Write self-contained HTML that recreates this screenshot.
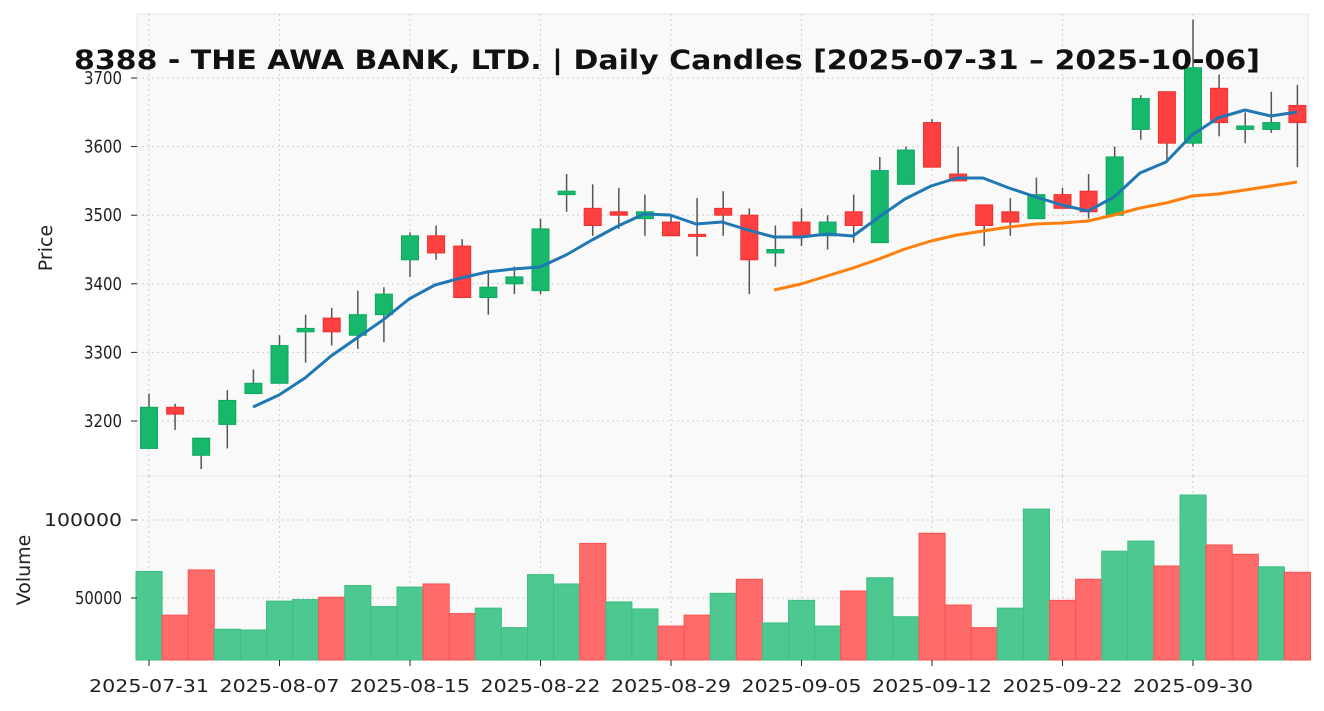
<!DOCTYPE html>
<html><head><meta charset="utf-8"><style>
html,body{margin:0;padding:0;background:#fff;width:1324px;height:711px;overflow:hidden}
svg{display:block;font-family:"DejaVu Sans","Liberation Sans",sans-serif}
</style></head><body>
<svg id="s" width="1324" height="711" xmlns="http://www.w3.org/2000/svg">
<rect x="137" y="14" width="1171" height="462" fill="#f9f9f9" stroke="#e6e6e6"/>
<rect x="137" y="476" width="1171" height="184" fill="#f9f9f9" stroke="#e6e6e6"/>
<g id="grid" stroke="#cfcfcf" stroke-width="1" stroke-dasharray="2,3"></g>
<g id="vol"></g>
<g id="cdl"></g>
<g id="lines" fill="none" stroke-width="3" stroke-linejoin="round"></g>
<g id="ax" font-size="18" fill="#222"></g>
<text x="52" y="248" font-size="19" fill="#222" text-anchor="middle" transform="rotate(-90 52 248)">Price</text>
<text x="30" y="570" font-size="19" fill="#222" text-anchor="middle" transform="rotate(-90 30 570)">Volume</text>
<text x="74" y="69" font-size="27" font-weight="bold" fill="#111" textLength="1186" lengthAdjust="spacingAndGlyphs">8388 - THE AWA BANK, LTD. | Daily Candles [2025-07-31 – 2025-10-06]</text>
</svg>
<script>
const NS="http://www.w3.org/2000/svg";
function el(p,t,a,txt){const e=document.createElementNS(NS,t);for(const k in a)e.setAttribute(k,a[k]);if(txt!==undefined)e.textContent=txt;document.getElementById(p).appendChild(e);return e;}
const X=i=>149+26.1*i, Y=p=>421-(p-3200)*0.686, V=v=>676-v*78/50000;
const C=[[3160,3220,3240,3160],[3220,3210,3225,3187],[3150,3175,3175,3130],[3195,3230,3245,3160],[3240,3255,3275,3240],[3255,3310,3325,3255],[3330,3335,3355,3285],[3350,3330,3365,3310],[3325,3355,3390,3305],[3355,3385,3395,3315],[3435,3470,3475,3410],[3470,3445,3485,3435],[3455,3380,3465,3380],[3380,3395,3420,3355],[3400,3410,3425,3385],[3390,3480,3495,3385],[3530,3535,3560,3505],[3510,3485,3545,3470],[3505,3500,3540,3480],[3495,3505,3530,3470],[3490,3470,3500,3470],[3472,3470,3525,3440],[3510,3500,3535,3470],[3500,3435,3510,3385],[3445,3450,3485,3425],[3490,3470,3510,3455],[3470,3490,3500,3450],[3505,3485,3530,3460],[3460,3565,3585,3460],[3545,3595,3600,3545],[3635,3570,3640,3570],[3560,3550,3600,3550],[3515,3485,3515,3455],[3505,3490,3525,3470],[3495,3530,3555,3495],[3530,3510,3540,3510],[3535,3505,3560,3495],[3500,3585,3600,3500],[3625,3670,3675,3610],[3680,3605,3680,3580],[3605,3715,3785,3600],[3685,3635,3705,3615],[3625,3630,3650,3605],[3625,3635,3680,3620],[3660,3635,3690,3570]];
const VOL=[[67000,'g'],[39000,'r'],[68000,'r'],[30000,'g'],[29500,'g'],[48000,'g'],[49000,'g'],[50500,'r'],[58000,'g'],[44500,'g'],[57000,'g'],[59000,'r'],[40000,'r'],[43500,'g'],[31000,'g'],[65000,'g'],[59000,'g'],[85000,'r'],[47500,'g'],[43000,'g'],[32000,'r'],[39000,'r'],[53000,'g'],[62000,'r'],[34000,'g'],[48500,'g'],[32000,'g'],[54500,'r'],[63000,'g'],[38000,'g'],[91500,'r'],[45500,'r'],[31000,'r'],[43500,'g'],[107000,'g'],[48500,'r'],[62000,'r'],[80000,'g'],[86500,'g'],[70500,'r'],[116000,'g'],[84000,'r'],[78000,'r'],[70000,'g'],[66500,'r']];
for(let i=0;i<=40;i+=5){const x=X(i);el('grid','line',{x1:x,x2:x,y1:14,y2:476});el('grid','line',{x1:x,x2:x,y1:476,y2:660});}
for(let p=3200;p<=3700;p+=100)el('grid','line',{x1:137,x2:1308,y1:Y(p),y2:Y(p)});
[50000,100000].forEach(v=>el('grid','line',{x1:137,x2:1308,y1:V(v),y2:V(v)}));
VOL.forEach((d,i)=>{const y=V(d[0]);el('vol','rect',{x:X(i)-13,y:y,width:26.1,height:660-y,fill:d[1]=='g'?'#4cc890':'#ff6b6b',stroke:d[1]=='g'?'#3cbf80':'#ff5050','stroke-width':1});});
C.forEach((c,i)=>{const [o,cl,h,l]=c;const up=cl>=o;const x=X(i);
el('cdl','line',{x1:x,x2:x,y1:Y(h),y2:Y(l),stroke:'#555','stroke-width':1.5});
const t=Y(Math.max(o,cl)),b=Y(Math.min(o,cl));
el('cdl','rect',{x:x-8.5,y:t,width:17,height:Math.max(b-t,2),fill:up?'#17b86c':'#ff4040',stroke:up?'#0ea860':'#ee3030','stroke-width':1});});
const blue=[[253,407],[279,395],[305,378],[331,356],[357,338],[383,320],[409,299],[435,285],[461,278],[487,272],[513,269],[540,267],[566,255],[592,240],[618,226],[644,214],[670,215],[696,224],[722,222],[748,230],[774,237],[801,237],[827,234],[853,236],[879,217],[905,199],[931,186],[957,178],[983,178],[1009,188],[1036,197],[1062,205],[1088,211],[1114,197],[1140,173],[1166,162],[1192,135],[1218,118],[1245,110],[1271,116],[1297,112]];
const orange=[[774,290],[801,284],[827,276],[853,268],[879,259],[905,249],[931,241],[957,235],[983,231],[1009,227],[1036,224],[1062,223],[1088,221],[1114,215],[1140,208],[1166,203],[1192,196],[1218,194],[1245,190],[1271,186],[1297,182]];
el('lines','polyline',{points:orange.map(p=>p.join(',')).join(' '),stroke:'#ff7f0e'});
el('lines','polyline',{points:blue.map(p=>p.join(',')).join(' '),stroke:'#1f77b4'});
for(let p=3200;p<=3700;p+=100){el('ax','line',{x1:131,x2:137,y1:Y(p),y2:Y(p),stroke:'#222'});el('ax','text',{x:122,y:Y(p)+6,'text-anchor':'end',textLength:38,lengthAdjust:'spacingAndGlyphs'},p);}
[[50000,47],[100000,78]].forEach(([v,w])=>{el('ax','line',{x1:131,x2:137,y1:V(v),y2:V(v),stroke:'#222'});el('ax','text',{x:122,y:V(v)+6,'text-anchor':'end',textLength:w,lengthAdjust:'spacingAndGlyphs'},v);});
const L=['2025-07-31','2025-08-07','2025-08-15','2025-08-22','2025-08-29','2025-09-05','2025-09-12','2025-09-22','2025-09-30'];
L.forEach((s,k)=>{const x=X(k*5);el('ax','line',{x1:x,x2:x,y1:660,y2:666,stroke:'#222'});el('ax','text',{x:x-60,y:692,textLength:120,lengthAdjust:'spacingAndGlyphs'},s);});
</script>
</body></html>
